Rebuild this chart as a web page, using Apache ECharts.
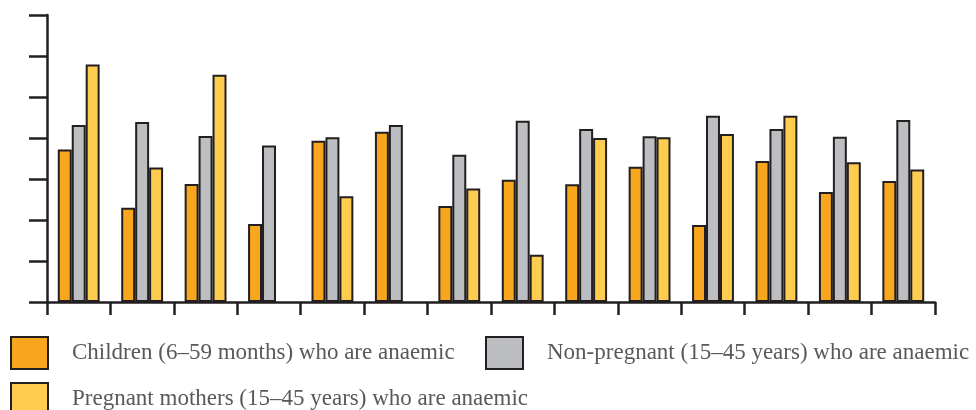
<!DOCTYPE html>
<html>
<head>
<meta charset="utf-8">
<script src="https://cdn.jsdelivr.net/npm/echarts@6/dist/echarts.min.js"></script>
<style>html,body{margin:0;padding:0;background:#fff}#c{width:976px;height:410px}</style>
</head>
<body>
<div id="c"></div>
<script>
const categories = ['1','2','3','4','5','6','7','8','9','10','11','12','13','14'];
const children = [37.2, 23.0, 28.8, 19.0, 39.3, 41.5, 23.4, 29.8, 28.7, 33.0, 18.8, 34.4, 26.8, 29.5];
const nonPregnant = [43.2, 43.9, 40.5, 38.2, 40.2, 43.2, 35.9, 44.2, 42.2, 40.4, 45.4, 42.2, 40.3, 44.4];
const pregnant = [57.9, 32.8, 55.4, null, 25.8, null, 27.7, 11.5, 40.0, 40.2, 41.0, 45.4, 34.1, 32.3];
const seriesNames = ['Children (6\u201359 months) who are anaemic', 'Non-pregnant (15\u201345 years) who are anaemic', 'Pregnant mothers (15\u201345 years) who are anaemic'];
const colors = ['#F8A61E', '#BDBEC1', '#FECC4F'];
const dark = '#231F20';

const chart = echarts.init(document.getElementById('c'));
const legendText = {fontFamily: 'Liberation Serif', fontSize: 23, color: '#58595B', padding: [0, 0, 0, 19]};
function leg(name, left, top) {
  return {data: [name], left: left, top: top, padding: 0, icon: 'rect', itemWidth: 37, itemHeight: 32, selectedMode: false,
    textStyle: legendText, itemStyle: {borderColor: dark, borderWidth: 2}};
}
const data = [children, nonPregnant, pregnant];
chart.setOption({
  animation: false,
  color: colors,
  grid: {left: 47, right: 41, top: 15, bottom: 108},
  legend: [leg(seriesNames[0], 10, 336), leg(seriesNames[1], 485, 336), leg(seriesNames[2], 10, 382)],
  xAxis: {
    type: 'category', data: categories, boundaryGap: true,
    axisLine: {lineStyle: {color: dark, width: 2.5}},
    axisTick: {show: true, length: 13, lineStyle: {color: dark, width: 2.5}},
    axisLabel: {show: false}
  },
  yAxis: {
    type: 'value', min: 0, max: 70, interval: 10,
    axisLine: {show: true, lineStyle: {color: dark, width: 2.5}},
    axisTick: {show: true, length: 18, lineStyle: {color: dark, width: 2.5}},
    axisLabel: {show: false},
    splitLine: {show: false}
  },
  series: data.map((d, i) => ({
    name: seriesNames[i], type: 'bar', data: d,
    barGap: '0%', barCategoryGap: '34%',
    itemStyle: {color: colors[i], borderColor: dark, borderWidth: 2}
  }))
});
</script>
</body>
</html>
